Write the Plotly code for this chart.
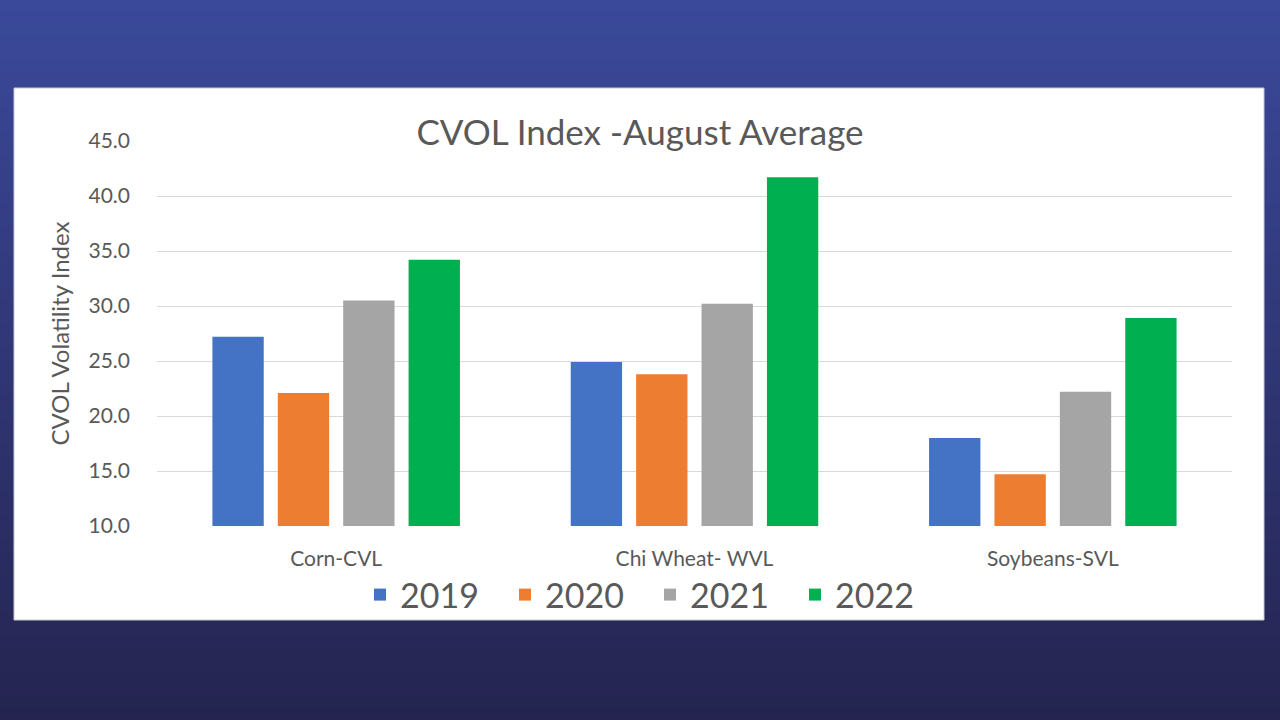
import plotly.graph_objects as go

categories = ["Corn-CVL", "Chi Wheat- WVL", "Soybeans-SVL"]
years = ["2019", "2020", "2021", "2022"]
values_2019 = [27.2, 24.9, 18.0]
values_2020 = [22.1, 23.8, 14.7]
values_2021 = [30.5, 30.2, 22.2]
values_2022 = [34.2, 41.7, 28.9]
series = [values_2019, values_2020, values_2021, values_2022]
colors = ["#4472C4", "#ED7D31", "#A5A5A5", "#00B050"]

FONT = "Lato, 'Open Sans', sans-serif"
TXT = "#595959"

L, R, T, B = 157, 1232, 141, 526  # plot area in px
W, H = R - L, B - T

def px_x(x):
    return (x - L) / W

def px_y(y):
    return (B - y) / H

fig = go.Figure()
for name, vals, col in zip(years, series, colors):
    fig.add_trace(go.Bar(x=categories, y=vals, name=name, marker=dict(color=col, line=dict(width=0))))

# Background gradient bands (full page)
shapes = []
n = 60
top = (59, 73, 155)
bot = (37, 36, 80)
for i in range(n):
    t = i / (n - 1)
    c = tuple(int(round(top[k] + (bot[k] - top[k]) * t)) for k in range(3))
    ya = 720 * i / n
    yb = 720 * (i + 1) / n
    shapes.append(dict(type="rect", xref="paper", yref="paper", x0=px_x(0), x1=px_x(1280),
                       y0=px_y(yb + 1), y1=px_y(ya),
                       fillcolor="rgb(%d,%d,%d)" % c, line=dict(width=0), layer="below"))
# White panel
shapes.append(dict(type="rect", xref="paper", yref="paper",
                   x0=px_x(14), x1=px_x(1264), y0=px_y(620), y1=px_y(88),
                   fillcolor="white", line=dict(color="#c8c8d0", width=1), layer="below"))

fig.update_layout(
    width=1280, height=720,
    margin=dict(l=L, r=1280 - R, t=T, b=720 - B),
    paper_bgcolor="rgb(48,56,120)",
    plot_bgcolor="rgba(0,0,0,0)",
    shapes=shapes,
    barmode="group",
    bargap=0.27,
    bargroupgap=0.215,
    font=dict(family=FONT, color=TXT),
    title=dict(text="CVOL Index -August Average", x=px_x(640), xref="paper", xanchor="center",
               y=(720 - 133) / 720, yanchor="middle", font=dict(size=35, color=TXT, family=FONT)),
    legend=dict(orientation="h", x=px_x(650), xanchor="center", xref="paper", y=px_y(595), yanchor="middle",
                yref="paper",
                font=dict(size=34, color=TXT, family=FONT), itemwidth=30, bgcolor="rgba(0,0,0,0)",
                traceorder="normal", entrywidth=100),
    showlegend=True,
)
fig.update_yaxes(range=[10, 45], dtick=5, tick0=10, tickformat=".1f", showgrid=True, gridcolor="#d9d9d9",
                 gridwidth=1, zeroline=False, showline=False, ticks="", ticklabelstandoff=26,
                 tickfont=dict(size=21, color=TXT, family=FONT),
                 title=dict(text="CVOL Volatility Index", font=dict(size=24, color=TXT, family=FONT), standoff=12))
fig.update_xaxes(showgrid=False, showline=False, ticks="", tickfont=dict(size=21, color=TXT, family=FONT),
                 ticklabelstandoff=18)

fig.write_html("out.html", config={"displayModeBar": False},
               post_script="document.body.style.margin='0';")
